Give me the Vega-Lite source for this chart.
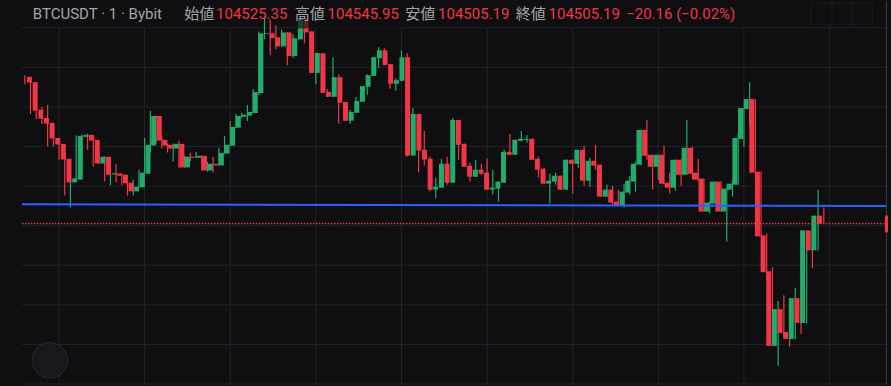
{
 "$schema": "https://vega.github.io/schema/vega-lite/v6.json",
 "width": 891, "height": 386,
 "autosize": {"type": "fit", "contains": "padding"},
 "padding": 0,
 "background": "#0f0f12",
 "config": {"view": {"stroke": null}},
 "datasets": {
  "candles": [
{"t":-6,"o":104875.9,"h":104880.1,"l":104857.5,"c":104861.8},
{"t":-5,"o":104862.5,"h":104862.5,"l":104782.1,"c":104790.4},
{"t":-4,"o":104792.9,"h":104797.2,"l":104769.5,"c":104770.3},
{"t":-3,"o":104772.0,"h":104799.7,"l":104756.9,"c":104757.7},
{"t":-2,"o":104759.5,"h":104804.7,"l":104699.9,"c":104720.0},
{"t":-1,"o":104721.7,"h":104726.8,"l":104699.9,"c":104704.9},
{"t":0,"o":104706.7,"h":104716.0,"l":104666.4,"c":104667.2},
{"t":1,"o":104668.9,"h":104686.5,"l":104575.9,"c":104609.4},
{"t":2,"o":104609.4,"h":104633.8,"l":104546.5,"c":104619.4},
{"t":3,"o":104616.2,"h":104728.0,"l":104614.9,"c":104726.8},
{"t":4,"o":104724.3,"h":104730.5,"l":104672.2,"c":104729.3},
{"t":5,"o":104729.3,"h":104732.6,"l":104691.6,"c":104715.0},
{"t":6,"o":104716.7,"h":104718.0,"l":104649.6,"c":104657.1},
{"t":7,"o":104657.1,"h":104686.5,"l":104656.4,"c":104674.0},
{"t":8,"o":104674.0,"h":104675.2,"l":104611.9,"c":104628.7},
{"t":9,"o":104629.5,"h":104648.1,"l":104601.8,"c":104632.5},
{"t":10,"o":104632.0,"h":104656.4,"l":104609.4,"c":104626.2},
{"t":11,"o":104628.7,"h":104631.2,"l":104601.8,"c":104606.9},
{"t":12,"o":104608.6,"h":104611.1,"l":104575.9,"c":104586.7},
{"t":13,"o":104586.7,"h":104616.2,"l":104575.9,"c":104598.6},
{"t":14,"o":104596.8,"h":104641.3,"l":104596.0,"c":104633.8},
{"t":15,"o":104631.2,"h":104721.7,"l":104630.5,"c":104704.1},
{"t":16,"o":104702.4,"h":104789.6,"l":104684.0,"c":104777.0},
{"t":17,"o":104777.0,"h":104778.3,"l":104706.7,"c":104715.0},
{"t":18,"o":104716.7,"h":104726.8,"l":104694.8,"c":104702.4},
{"t":19,"o":104704.1,"h":104706.7,"l":104684.8,"c":104694.8},
{"t":20,"o":104694.8,"h":104707.4,"l":104662.2,"c":104706.7},
{"t":21,"o":104706.7,"h":104714.2,"l":104646.3,"c":104647.1},
{"t":22,"o":104647.1,"h":104676.5,"l":104646.3,"c":104674.0},
{"t":23,"o":104674.0,"h":104684.0,"l":104662.2,"c":104671.5},
{"t":24,"o":104671.5,"h":104686.5,"l":104670.7,"c":104676.5},
{"t":25,"o":104676.5,"h":104677.2,"l":104638.8,"c":104639.5},
{"t":26,"o":104639.5,"h":104661.4,"l":104636.3,"c":104656.4},
{"t":27,"o":104656.4,"h":104674.0,"l":104634.5,"c":104652.1},
{"t":28,"o":104652.1,"h":104696.6,"l":104651.4,"c":104684.0},
{"t":29,"o":104682.3,"h":104726.8,"l":104681.5,"c":104704.1},
{"t":30,"o":104702.4,"h":104764.5,"l":104701.6,"c":104749.4},
{"t":31,"o":104747.6,"h":104782.1,"l":104746.9,"c":104777.0},
{"t":32,"o":104775.3,"h":104784.6,"l":104772.8,"c":104780.3},
{"t":33,"o":104777.8,"h":104804.7,"l":104764.5,"c":104787.1},
{"t":34,"o":104784.6,"h":104844.9,"l":104783.8,"c":104837.4},
{"t":35,"o":104834.9,"h":104990.7,"l":104829.8,"c":104985.7},
{"t":36,"o":104984.0,"h":105028.4,"l":104970.6,"c":104985.7},
{"t":37,"o":104985.7,"h":105020.9,"l":104931.2,"c":104973.9},
{"t":38,"o":104975.7,"h":105005.8,"l":104945.5,"c":104953.0},
{"t":39,"o":104953.0,"h":104995.8,"l":104952.3,"c":104988.2},
{"t":40,"o":104988.2,"h":104989.0,"l":104905.3,"c":104928.6},
{"t":41,"o":104928.6,"h":104983.2,"l":104923.6,"c":104973.1},
{"t":42,"o":104970.6,"h":105024.7,"l":104969.9,"c":105023.4},
{"t":43,"o":105023.4,"h":105024.7,"l":104960.6,"c":104988.2},
{"t":44,"o":104990.7,"h":104991.5,"l":104885.2,"c":104885.9},
{"t":45,"o":104885.9,"h":104936.9,"l":104857.5,"c":104936.2},
{"t":46,"o":104935.4,"h":104936.2,"l":104834.9,"c":104835.6},
{"t":47,"o":104837.4,"h":104844.9,"l":104824.8,"c":104825.6},
{"t":48,"o":104825.6,"h":104925.4,"l":104824.8,"c":104875.1},
{"t":49,"o":104875.1,"h":104882.6,"l":104757.7,"c":104810.5},
{"t":50,"o":104812.2,"h":104813.0,"l":104764.5,"c":104765.2},
{"t":51,"o":104765.2,"h":104792.1,"l":104757.7,"c":104787.1},
{"t":52,"o":104785.3,"h":104824.8,"l":104784.6,"c":104814.8},
{"t":53,"o":104813.0,"h":104853.2,"l":104812.2,"c":104852.5},
{"t":54,"o":104850.7,"h":104882.6,"l":104829.8,"c":104880.1},
{"t":55,"o":104878.4,"h":104926.1,"l":104877.6,"c":104925.4},
{"t":56,"o":104922.9,"h":104950.5,"l":104898.5,"c":104943.0},
{"t":57,"o":104943.0,"h":104948.0,"l":104905.3,"c":104906.0},
{"t":58,"o":104907.8,"h":104908.5,"l":104845.7,"c":104858.3},
{"t":59,"o":104858.3,"h":104872.6,"l":104840.7,"c":104867.6},
{"t":60,"o":104865.8,"h":104943.0,"l":104865.0,"c":104925.4},
{"t":61,"o":104925.4,"h":104935.4,"l":104674.0,"c":104677.2},
{"t":62,"o":104677.2,"h":104797.2,"l":104676.5,"c":104782.1},
{"t":63,"o":104782.1,"h":104782.8,"l":104634.5,"c":104689.8},
{"t":64,"o":104691.6,"h":104739.3,"l":104652.1,"c":104667.2},
{"t":65,"o":104668.9,"h":104674.0,"l":104586.7,"c":104591.0},
{"t":66,"o":104591.0,"h":104621.2,"l":104568.4,"c":104598.6},
{"t":67,"o":104596.0,"h":104668.9,"l":104595.3,"c":104656.4},
{"t":68,"o":104656.4,"h":104674.0,"l":104603.6,"c":104608.6},
{"t":69,"o":104608.6,"h":104772.0,"l":104607.9,"c":104767.0},
{"t":70,"o":104767.0,"h":104767.7,"l":104666.4,"c":104704.1},
{"t":71,"o":104706.7,"h":104707.4,"l":104648.1,"c":104648.8},
{"t":72,"o":104651.4,"h":104658.9,"l":104611.1,"c":104623.7},
{"t":73,"o":104623.7,"h":104666.4,"l":104623.0,"c":104641.3},
{"t":74,"o":104641.3,"h":104656.4,"l":104628.7,"c":104631.2},
{"t":75,"o":104633.8,"h":104668.9,"l":104590.3,"c":104591.0},
{"t":76,"o":104591.0,"h":104641.3,"l":104578.4,"c":104596.0},
{"t":77,"o":104593.5,"h":104611.9,"l":104560.8,"c":104611.1},
{"t":78,"o":104608.6,"h":104691.6,"l":104607.9,"c":104686.5},
{"t":79,"o":104686.5,"h":104731.8,"l":104678.2,"c":104679.0},
{"t":80,"o":104679.0,"h":104717.5,"l":104678.2,"c":104716.7},
{"t":81,"o":104714.2,"h":104739.3,"l":104713.4,"c":104719.2},
{"t":82,"o":104716.7,"h":104729.3,"l":104709.2,"c":104719.2},
{"t":83,"o":104719.2,"h":104720.0,"l":104665.7,"c":104666.4},
{"t":84,"o":104668.9,"h":104674.0,"l":104621.2,"c":104641.3},
{"t":85,"o":104643.8,"h":104646.3,"l":104605.3,"c":104606.1},
{"t":86,"o":104606.1,"h":104631.2,"l":104555.8,"c":104613.6},
{"t":87,"o":104611.1,"h":104633.8,"l":104603.6,"c":104626.2},
{"t":88,"o":104626.2,"h":104627.0,"l":104590.3,"c":104591.0},
{"t":89,"o":104591.0,"h":104667.2,"l":104590.3,"c":104666.4},
{"t":90,"o":104666.4,"h":104667.2,"l":104581.0,"c":104656.4},
{"t":91,"o":104656.4,"h":104692.4,"l":104646.3,"c":104691.6},
{"t":92,"o":104691.6,"h":104701.6,"l":104601.1,"c":104613.6},
{"t":93,"o":104613.6,"h":104671.5,"l":104598.6,"c":104663.9},
{"t":94,"o":104663.9,"h":104704.1,"l":104641.3,"c":104651.4},
{"t":95,"o":104653.9,"h":104654.6,"l":104572.7,"c":104573.4},
{"t":96,"o":104573.4,"h":104603.6,"l":104572.7,"c":104591.0},
{"t":97,"o":104591.0,"h":104601.1,"l":104553.3,"c":104558.3},
{"t":98,"o":104560.8,"h":104591.0,"l":104550.0,"c":104550.8},
{"t":99,"o":104550.8,"h":104606.1,"l":104545.8,"c":104586.0},
{"t":100,"o":104583.5,"h":104626.2,"l":104578.4,"c":104613.6},
{"t":101,"o":104611.1,"h":104661.4,"l":104586.0,"c":104656.4},
{"t":102,"o":104653.9,"h":104742.6,"l":104653.1,"c":104741.9},
{"t":103,"o":104741.9,"h":104767.0,"l":104666.4,"c":104676.5},
{"t":104,"o":104679.0,"h":104679.8,"l":104591.0,"c":104648.8},
{"t":105,"o":104648.8,"h":104679.8,"l":104616.2,"c":104679.0},
{"t":106,"o":104679.0,"h":104701.6,"l":104605.3,"c":104606.1},
{"t":107,"o":104608.6,"h":104633.8,"l":104581.0,"c":104596.0},
{"t":108,"o":104596.0,"h":104667.2,"l":104588.5,"c":104666.4},
{"t":109,"o":104666.4,"h":104667.2,"l":104601.1,"c":104628.7},
{"t":110,"o":104628.7,"h":104767.0,"l":104628.0,"c":104696.6},
{"t":111,"o":104696.6,"h":104699.1,"l":104616.2,"c":104631.2},
{"t":112,"o":104633.8,"h":104668.9,"l":104613.6,"c":104616.2},
{"t":113,"o":104618.7,"h":104619.4,"l":104534.9,"c":104535.7},
{"t":114,"o":104535.7,"h":104560.8,"l":104530.7,"c":104558.3},
{"t":115,"o":104555.8,"h":104611.9,"l":104555.0,"c":104611.1},
{"t":116,"o":104611.1,"h":104611.9,"l":104534.9,"c":104535.7},
{"t":117,"o":104535.7,"h":104594.3,"l":104460.3,"c":104593.5},
{"t":118,"o":104591.0,"h":104616.2,"l":104573.4,"c":104606.1},
{"t":119,"o":104603.6,"h":104734.3,"l":104602.8,"c":104721.7},
{"t":120,"o":104719.2,"h":104797.9,"l":104699.1,"c":104797.2},
{"t":121,"o":104794.6,"h":104862.5,"l":104751.9,"c":104819.8},
{"t":122,"o":104819.8,"h":104820.5,"l":104631.2,"c":104633.8},
{"t":123,"o":104636.3,"h":104637.0,"l":104472.1,"c":104472.9},
{"t":124,"o":104475.4,"h":104480.4,"l":104362.2,"c":104382.4},
{"t":125,"o":104384.9,"h":104394.9,"l":104195.6,"c":104196.3},
{"t":126,"o":104196.3,"h":104309.4,"l":104146.0,"c":104289.3},
{"t":127,"o":104289.3,"h":104324.5,"l":104221.5,"c":104229.0},
{"t":128,"o":104231.5,"h":104296.9,"l":104193.8,"c":104213.9},
{"t":129,"o":104213.9,"h":104342.1,"l":104213.1,"c":104317.0},
{"t":130,"o":104317.0,"h":104329.6,"l":104226.5,"c":104254.1},
{"t":131,"o":104254.1,"h":104488.7,"l":104253.4,"c":104487.9},
{"t":132,"o":104487.9,"h":104493.0,"l":104392.4,"c":104437.7},
{"t":133,"o":104437.7,"h":104591.0,"l":104437.0,"c":104525.35},
{"t":134,"o":104525.35,"h":104545.95,"l":104505.19,"c":104505.19}
  ],
  "vgrid": [{"t":0},{"t":15},{"t":30},{"t":45},{"t":60},{"t":75},{"t":90},{"t":105},{"t":120},{"t":135}],
  "hgrid": [{"p":104100},{"p":104200},{"p":104300},{"p":104400},{"p":104500},{"p":104600},{"p":104700},{"p":104800},{"p":104900},{"p":105000}],
  "trend": [{"t":-6.5,"p":104553.8},{"t":145.07,"p":104549.5}],
  "buttons": [{"b":"up"},{"b":"collapse"},{"b":"full"}]
 },
 "layer": [
  {
   "data": {"name": "vgrid"},
   "mark": {"type": "rule", "color": "#232327", "strokeWidth": 1},
   "encoding": {
    "x": {"field": "t", "type": "quantitative", "scale": {"domain": [-10.343, 145.07], "nice": false, "zero": false}, "axis": null},
    "y": {"datum": 105000, "type": "quantitative", "scale": {"domain": [104097.5, 105067.5], "nice": false, "zero": false}, "axis": null},
    "y2": {"datum": 104097.5}
   }
  },
  {
   "data": {"name": "hgrid"},
   "mark": {"type": "rule", "color": "#232327", "strokeWidth": 1},
   "encoding": {
    "y": {"field": "p", "type": "quantitative", "scale": {"domain": [104097.5, 105067.5], "nice": false, "zero": false}, "axis": null},
    "x": {"datum": -6.5, "type": "quantitative", "scale": {"domain": [-10.343, 145.07], "nice": false, "zero": false}, "axis": null},
    "x2": {"datum": 145.07}
   }
  },
  {
   "data": {"name": "candles"},
   "mark": {"type": "rule", "strokeWidth": 1.2},
   "encoding": {
    "x": {"field": "t", "type": "quantitative", "scale": {"domain": [-10.343, 145.07], "nice": false, "zero": false}, "axis": null},
    "y": {"field": "l", "type": "quantitative", "scale": {"domain": [104097.5, 105067.5], "nice": false, "zero": false}, "axis": null},
    "y2": {"field": "h"},
    "color": {"condition": {"test": "datum.c >= datum.o", "value": "#22ab6b"}, "value": "#f23645"}
   }
  },
  {
   "data": {"name": "candles"},
   "mark": {"type": "bar", "width": 5},
   "encoding": {
    "x": {"field": "t", "type": "quantitative", "scale": {"domain": [-10.343, 145.07], "nice": false, "zero": false}, "axis": null},
    "y": {"field": "o", "type": "quantitative", "scale": {"domain": [104097.5, 105067.5], "nice": false, "zero": false}, "axis": null},
    "y2": {"field": "c"},
    "color": {"condition": {"test": "datum.c >= datum.o", "value": "#22ab6b"}, "value": "#f23645"}
   }
  },
  {
   "data": {"name": "trend"},
   "mark": {"type": "line", "color": "#2962ff", "strokeWidth": 2},
   "encoding": {
    "x": {"field": "t", "type": "quantitative", "scale": {"domain": [-10.343, 145.07], "nice": false, "zero": false}, "axis": null},
    "y": {"field": "p", "type": "quantitative", "scale": {"domain": [104097.5, 105067.5], "nice": false, "zero": false}, "axis": null}
   }
  },
  {
   "data": {"values": [{"last": 104505.19}]},
   "mark": {"type": "rule", "color": "#f23645", "strokeWidth": 1.5, "strokeDash": [1.5, 1.5]},
   "encoding": {
    "y": {"field": "last", "type": "quantitative", "scale": {"domain": [104097.5, 105067.5], "nice": false, "zero": false}, "axis": null},
    "x": {"datum": -6.5, "type": "quantitative", "scale": {"domain": [-10.343, 145.07], "nice": false, "zero": false}, "axis": null},
    "x2": {"datum": 145.07}
   }
  },
  {
   "data": {"values": [{"edge": 144.98}]},
   "mark": {"type": "rule", "color": "#3a3a40", "strokeWidth": 1},
   "encoding": {
    "x": {"field": "edge", "type": "quantitative", "scale": {"domain": [-10.343, 145.07], "nice": false, "zero": false}, "axis": null},
    "y": {"datum": 104097.5, "type": "quantitative", "scale": {"domain": [104097.5, 105067.5], "nice": false, "zero": false}, "axis": null},
    "y2": {"datum": 105067.5}
   }
  },
  {
   "data": {"values": [{"edge": 144.98}]},
   "mark": {"type": "rule", "color": "#f23645", "strokeWidth": 3},
   "encoding": {
    "x": {"field": "edge", "type": "quantitative", "scale": {"domain": [-10.343, 145.07], "nice": false, "zero": false}, "axis": null},
    "y": {"datum": 104482.9, "type": "quantitative", "scale": {"domain": [104097.5, 105067.5], "nice": false, "zero": false}, "axis": null},
    "y2": {"datum": 104525.6}
   }
  },
  {
   "data": {"values": [{"box": 1}]},
   "mark": {"type": "rect", "color": "#0f0f12", "opacity": 0.65},
   "encoding": {
    "x": {"datum": 41.3, "type": "quantitative", "scale": {"domain": [-10.343, 145.07], "nice": false, "zero": false}, "axis": null},
    "x2": {"datum": 59.4},
    "y": {"datum": 105067.5, "type": "quantitative", "scale": {"domain": [104097.5, 105067.5], "nice": false, "zero": false}, "axis": null},
    "y2": {"datum": 104998.3}
   }
  },
  {
   "data": {"name": "buttons"},
   "mark": {"type": "point", "shape": "square", "size": 484, "filled": false, "stroke": "#222226", "strokeWidth": 1},
   "encoding": {
    "x": {"field": "b", "type": "nominal", "sort": null, "scale": {"type": "point", "domain": ["up", "collapse", "full"], "range": [812, 871.5]}, "axis": null},
    "y": {"datum": 105035.0, "type": "quantitative", "scale": {"domain": [104097.5, 105067.5], "nice": false, "zero": false}, "axis": null}
   }
  },
  {
   "data": {"values": [{"logo": 1}]},
   "mark": {"type": "point", "shape": "circle", "size": 1257, "filled": true, "fill": "#17181c", "stroke": "#2a2c31", "strokeWidth": 1, "opacity": 1},
   "encoding": {
    "x": {"datum": -1.62, "type": "quantitative", "scale": {"domain": [-10.343, 145.07], "nice": false, "zero": false}, "axis": null},
    "y": {"datum": 104159.9, "type": "quantitative", "scale": {"domain": [104097.5, 105067.5], "nice": false, "zero": false}, "axis": null}
   }
  },
  {"data": {"values": [{"label": "BTCUSDT · 1 · Bybit"}]}, "mark": {"type": "text", "align": "left", "baseline": "alphabetic", "font": "Roboto, Noto Sans CJK JP, sans-serif", "fontSize": 15, "color": "#a3a5ab"},
   "encoding": {"x": {"datum": -4.59, "type": "quantitative", "scale": {"domain": [-10.343, 145.07], "nice": false, "zero": false}, "axis": null}, "y": {"datum": 105022.2, "type": "quantitative", "scale": {"domain": [104097.5, 105067.5], "nice": false, "zero": false}, "axis": null}, "text": {"field": "label"}}},
  {"data": {"values": [{"label": "始値"}]}, "mark": {"type": "text", "align": "left", "baseline": "alphabetic", "font": "Roboto, Noto Sans CJK JP, sans-serif", "fontSize": 15, "color": "#a3a5ab"},
   "encoding": {"x": {"datum": 21.93, "type": "quantitative", "scale": {"domain": [-10.343, 145.07], "nice": false, "zero": false}, "axis": null}, "y": {"datum": 105022.2, "type": "quantitative", "scale": {"domain": [104097.5, 105067.5], "nice": false, "zero": false}, "axis": null}, "text": {"field": "label"}}},
  {"data": {"values": [{"label": "104525.35"}]}, "mark": {"type": "text", "align": "left", "baseline": "alphabetic", "font": "Roboto, Noto Sans CJK JP, sans-serif", "fontSize": 15, "color": "#f23645"},
   "encoding": {"x": {"datum": 27.51, "type": "quantitative", "scale": {"domain": [-10.343, 145.07], "nice": false, "zero": false}, "axis": null}, "y": {"datum": 105022.2, "type": "quantitative", "scale": {"domain": [104097.5, 105067.5], "nice": false, "zero": false}, "axis": null}, "text": {"field": "label"}}},
  {"data": {"values": [{"label": "高値"}]}, "mark": {"type": "text", "align": "left", "baseline": "alphabetic", "font": "Roboto, Noto Sans CJK JP, sans-serif", "fontSize": 15, "color": "#a3a5ab"},
   "encoding": {"x": {"datum": 41.29, "type": "quantitative", "scale": {"domain": [-10.343, 145.07], "nice": false, "zero": false}, "axis": null}, "y": {"datum": 105022.2, "type": "quantitative", "scale": {"domain": [104097.5, 105067.5], "nice": false, "zero": false}, "axis": null}, "text": {"field": "label"}}},
  {"data": {"values": [{"label": "104545.95"}]}, "mark": {"type": "text", "align": "left", "baseline": "alphabetic", "font": "Roboto, Noto Sans CJK JP, sans-serif", "fontSize": 15, "color": "#f23645"},
   "encoding": {"x": {"datum": 47.05, "type": "quantitative", "scale": {"domain": [-10.343, 145.07], "nice": false, "zero": false}, "axis": null}, "y": {"datum": 105022.2, "type": "quantitative", "scale": {"domain": [104097.5, 105067.5], "nice": false, "zero": false}, "axis": null}, "text": {"field": "label"}}},
  {"data": {"values": [{"label": "安値"}]}, "mark": {"type": "text", "align": "left", "baseline": "alphabetic", "font": "Roboto, Noto Sans CJK JP, sans-serif", "fontSize": 15, "color": "#a3a5ab"},
   "encoding": {"x": {"datum": 60.65, "type": "quantitative", "scale": {"domain": [-10.343, 145.07], "nice": false, "zero": false}, "axis": null}, "y": {"datum": 105022.2, "type": "quantitative", "scale": {"domain": [104097.5, 105067.5], "nice": false, "zero": false}, "axis": null}, "text": {"field": "label"}}},
  {"data": {"values": [{"label": "104505.19"}]}, "mark": {"type": "text", "align": "left", "baseline": "alphabetic", "font": "Roboto, Noto Sans CJK JP, sans-serif", "fontSize": 15, "color": "#f23645"},
   "encoding": {"x": {"datum": 66.41, "type": "quantitative", "scale": {"domain": [-10.343, 145.07], "nice": false, "zero": false}, "axis": null}, "y": {"datum": 105022.2, "type": "quantitative", "scale": {"domain": [104097.5, 105067.5], "nice": false, "zero": false}, "axis": null}, "text": {"field": "label"}}},
  {"data": {"values": [{"label": "終値"}]}, "mark": {"type": "text", "align": "left", "baseline": "alphabetic", "font": "Roboto, Noto Sans CJK JP, sans-serif", "fontSize": 15, "color": "#a3a5ab"},
   "encoding": {"x": {"datum": 80.01, "type": "quantitative", "scale": {"domain": [-10.343, 145.07], "nice": false, "zero": false}, "axis": null}, "y": {"datum": 105022.2, "type": "quantitative", "scale": {"domain": [104097.5, 105067.5], "nice": false, "zero": false}, "axis": null}, "text": {"field": "label"}}},
  {"data": {"values": [{"label": "104505.19"}]}, "mark": {"type": "text", "align": "left", "baseline": "alphabetic", "font": "Roboto, Noto Sans CJK JP, sans-serif", "fontSize": 15, "color": "#f23645"},
   "encoding": {"x": {"datum": 85.77, "type": "quantitative", "scale": {"domain": [-10.343, 145.07], "nice": false, "zero": false}, "axis": null}, "y": {"datum": 105022.2, "type": "quantitative", "scale": {"domain": [104097.5, 105067.5], "nice": false, "zero": false}, "axis": null}, "text": {"field": "label"}}},
  {"data": {"values": [{"label": "−20.16 (−0.02%)"}]}, "mark": {"type": "text", "align": "left", "baseline": "alphabetic", "font": "Roboto, Noto Sans CJK JP, sans-serif", "fontSize": 15, "color": "#f23645"},
   "encoding": {"x": {"datum": 99.37, "type": "quantitative", "scale": {"domain": [-10.343, 145.07], "nice": false, "zero": false}, "axis": null}, "y": {"datum": 105022.2, "type": "quantitative", "scale": {"domain": [104097.5, 105067.5], "nice": false, "zero": false}, "axis": null}, "text": {"field": "label"}}}
 ]
}
